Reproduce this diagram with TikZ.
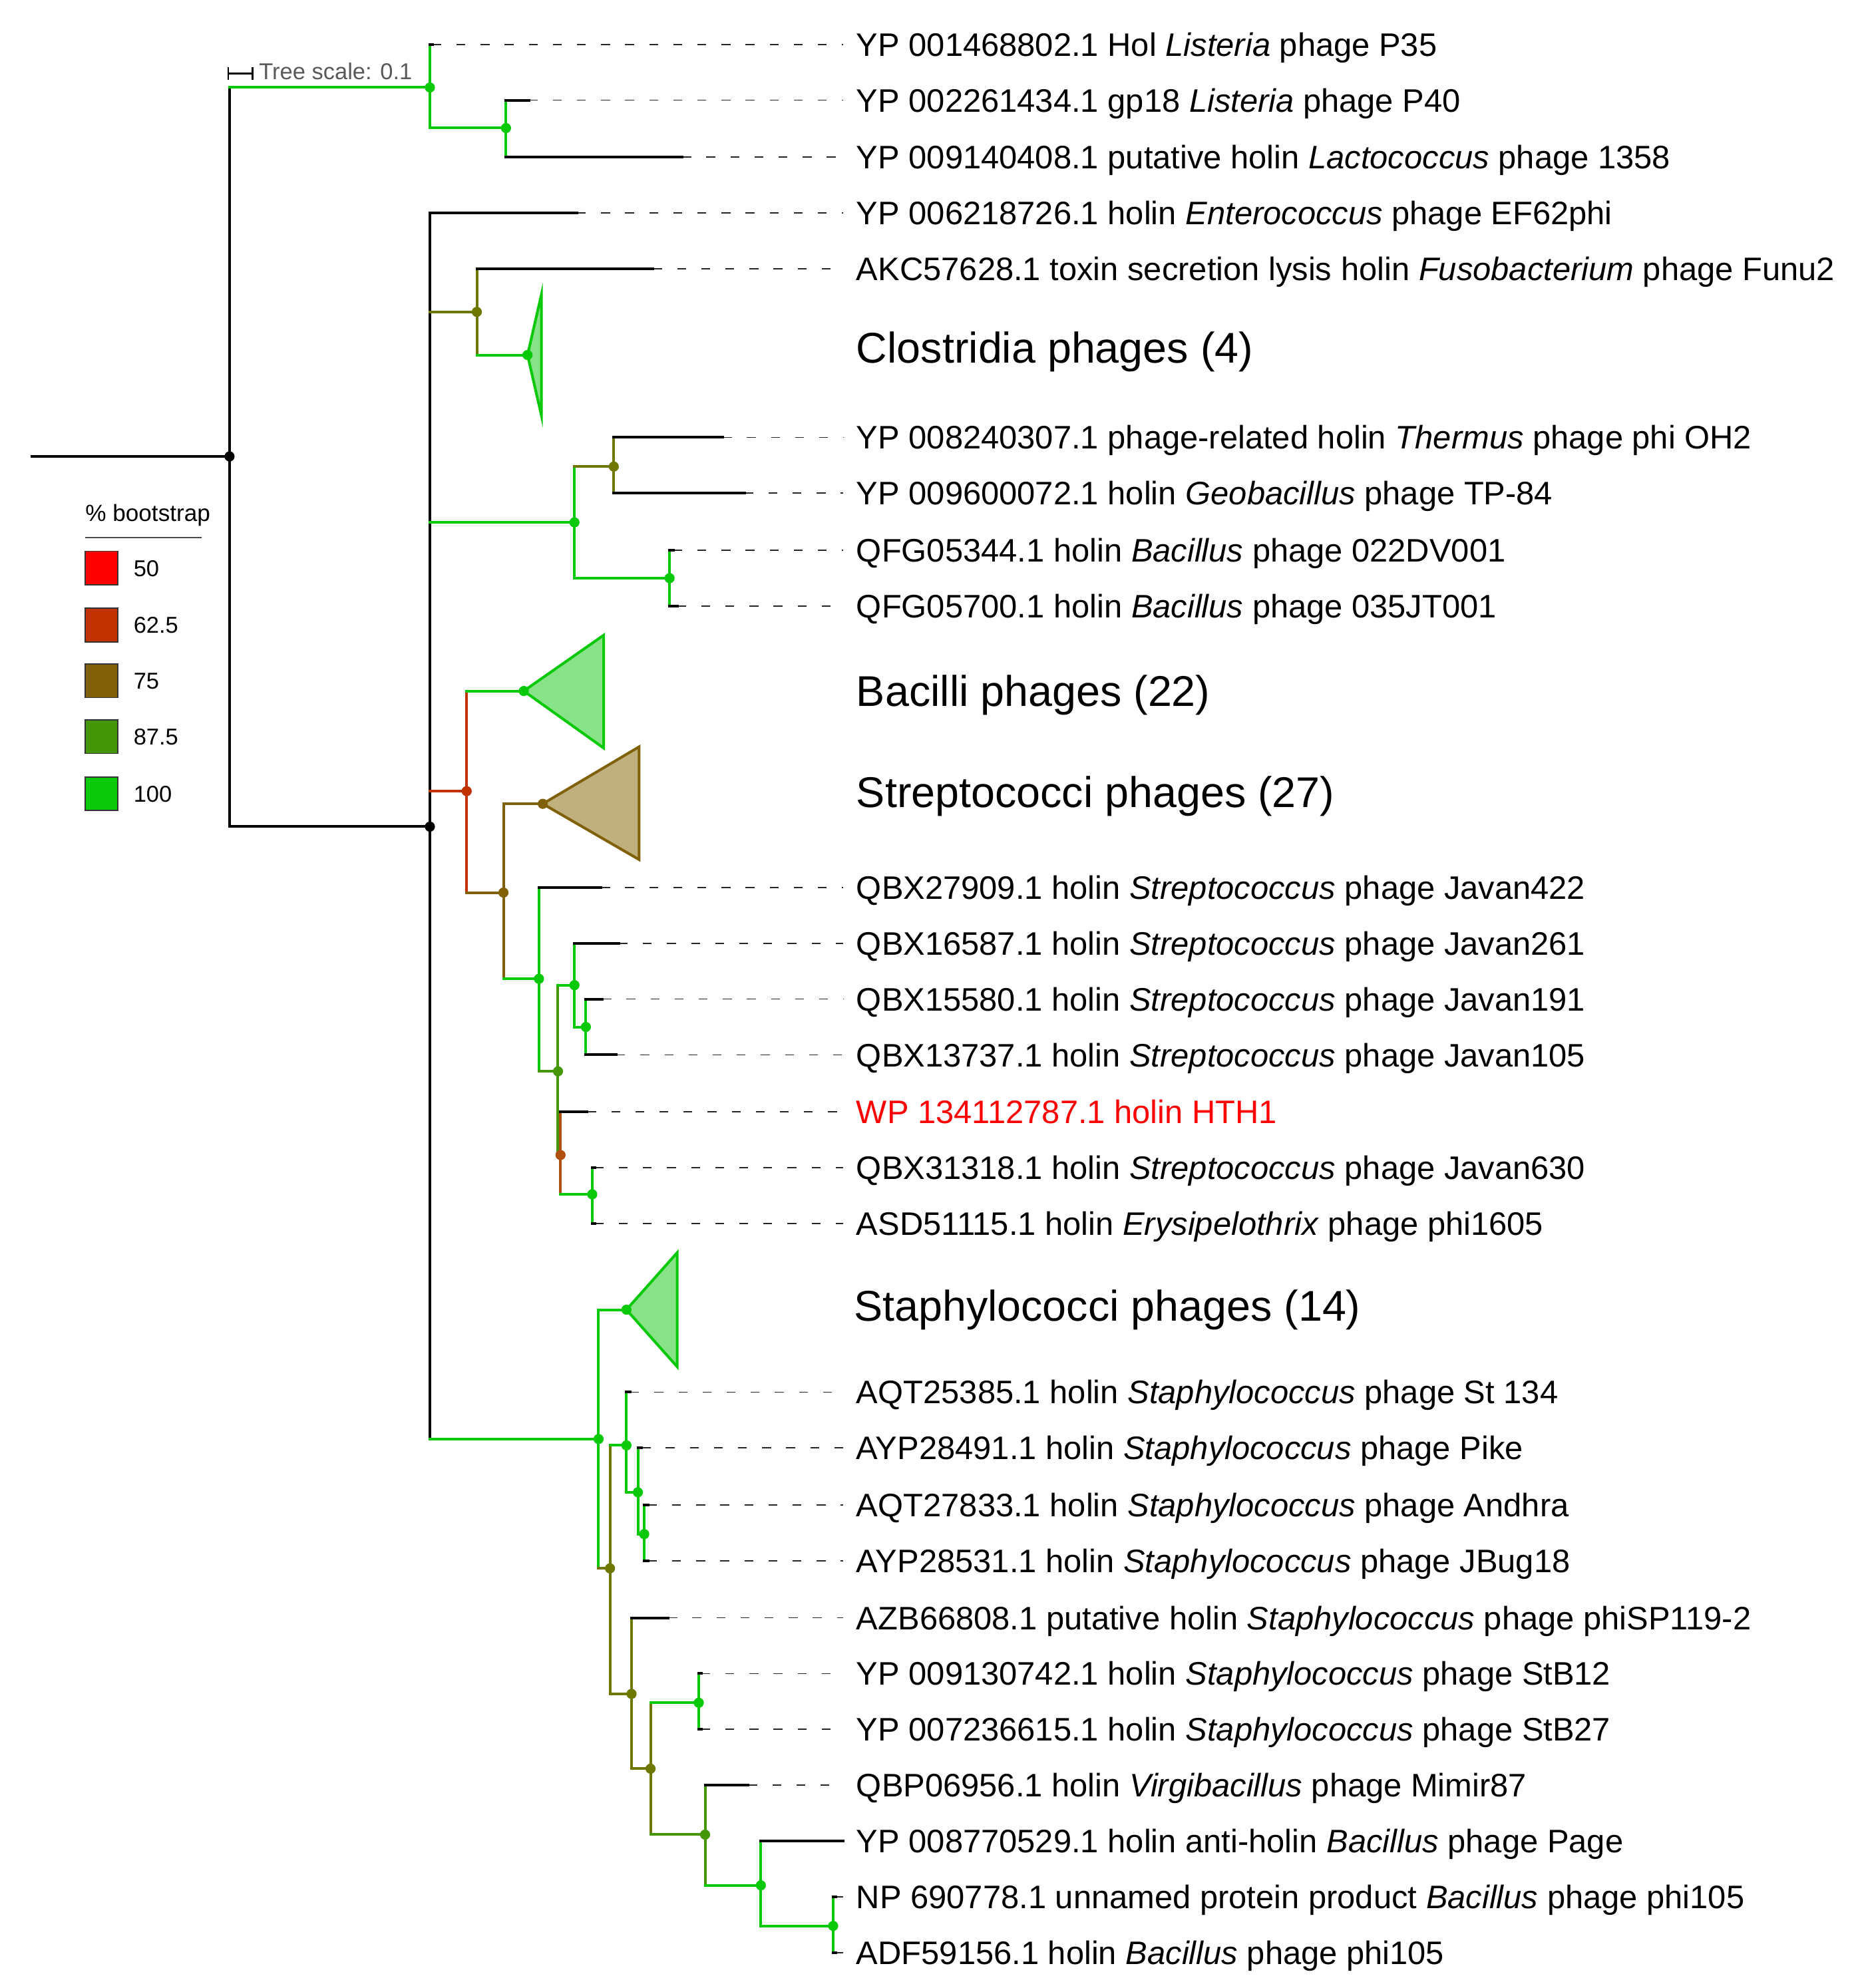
\documentclass[tikz,border=0pt]{standalone}
\usepackage{fontspec}
\setmainfont{Liberation Sans}
\definecolor{c100}{RGB}{10,200,10}
\definecolor{c875}{RGB}{70,150,10}
\definecolor{c75}{RGB}{128,96,8}
\definecolor{c625}{RGB}{192,50,0}
\definecolor{c50}{RGB}{255,0,0}
\definecolor{colv}{RGB}{110,120,0}
\definecolor{corg}{RGB}{176,80,16}
\definecolor{lgreen}{RGB}{136,226,136}
\definecolor{ltan}{RGB}{192,176,126}
\tikzset{
  br/.style={line width=1.2pt, line cap=rect},
  lead/.style={line width=0.5pt, black!85, dash pattern=on 0.14cm off 0.24cm},
  lab/.style={anchor=base west, inner sep=0pt, font=\fontsize{14.6}{16}\selectfont},
  grp/.style={anchor=base west, inner sep=0pt, font=\fontsize{19.3}{22}\selectfont},
  leg/.style={anchor=base west, inner sep=0pt, font=\fontsize{10.3}{12}\selectfont},
  legbox/.style={draw=black!80, line width=0.5pt, minimum width=0.52cm, minimum height=0.53cm, inner sep=0pt},
  clade/.style={line width=1.2pt, line join=miter},
}
\begin{document}
\begin{tikzpicture}[x=0.02cm,y=-0.02cm]
\useasboundingbox (0,0) rectangle (1465,1568);
\coordinate (root) at (25,360);
\coordinate (r) at (181,360);
\coordinate (n1) at (339,69);
\coordinate (n2) at (399,101);
\coordinate (n3) at (339,652);
\coordinate (n4) at (376,246);
\coordinate (n5) at (416,280);
\coordinate (n6) at (453,412);
\coordinate (n7) at (484,368);
\coordinate (n8) at (528,456);
\coordinate (n9) at (368,624);
\coordinate (n10) at (413,545);
\coordinate (n11) at (397,704);
\coordinate (n12) at (428,634);
\coordinate (n13) at (425,772);
\coordinate (n14) at (440,845);
\coordinate (n15) at (453,777);
\coordinate (n16) at (462,810);
\coordinate (n17) at (442,911);
\coordinate (n18) at (467,942);
\coordinate (n19) at (472,1135);
\coordinate (n20) at (494,1033);
\coordinate (n21) at (481,1237);
\coordinate (n22) at (494,1140);
\coordinate (n23) at (503,1177);
\coordinate (n24) at (508,1210);
\coordinate (n25) at (498,1336);
\coordinate (n26) at (513,1395);
\coordinate (n27) at (551,1343);
\coordinate (n28) at (556,1447);
\coordinate (n29) at (600,1487);
\coordinate (n30) at (657,1519);
\coordinate (al) at (665,0);

\foreach \i/\x/\y/\txt in {
  1/341/35/{YP 001468802.1 Hol \textit{Listeria} phage P35},
  2/417/79/{YP 002261434.1 gp18 \textit{Listeria} phage P40},
  3/538/124/{YP 009140408.1 putative holin \textit{Lactococcus} phage 1358},
  4/455/168/{YP 006218726.1 holin \textit{Enterococcus} phage EF62phi},
  5/515/212/{AKC57628.1 toxin secretion lysis holin \textit{Fusobacterium} phage Funu2},
  7/570/345/{YP 008240307.1 phage-related holin \textit{Thermus} phage phi OH2},
  8/587/389/{YP 009600072.1 holin \textit{Geobacillus} phage TP-84},
  9/531/434/{QFG05344.1 holin \textit{Bacillus} phage 022DV001},
  10/534/478/{QFG05700.1 holin \textit{Bacillus} phage 035JT001},
  13/474/700/{QBX27909.1 holin \textit{Streptococcus} phage Javan422},
  14/488/744/{QBX16587.1 holin \textit{Streptococcus} phage Javan261},
  15/475/788/{QBX15580.1 holin \textit{Streptococcus} phage Javan191},
  16/486/832/{QBX13737.1 holin \textit{Streptococcus} phage Javan105},
  17/463/877/{\color{c50}WP 134112787.1 holin HTH1},
  18/469/921/{QBX31318.1 holin \textit{Streptococcus} phage Javan630},
  19/469/965/{ASD51115.1 holin \textit{Erysipelothrix} phage phi1605},
  21/497/1098/{AQT25385.1 holin \textit{Staphylococcus} phage St 134},
  22/506/1142/{AYP28491.1 holin \textit{Staphylococcus} phage Pike},
  23/511/1187/{AQT27833.1 holin \textit{Staphylococcus} phage Andhra},
  24/511/1231/{AYP28531.1 holin \textit{Staphylococcus} phage JBug18},
  25/527/1276/{AZB66808.1 putative holin \textit{Staphylococcus} phage phiSP119-2},
  26/553/1320/{YP 009130742.1 holin \textit{Staphylococcus} phage StB12},
  27/553/1364/{YP 007236615.1 holin \textit{Staphylococcus} phage StB27},
  28/590/1408/{QBP06956.1 holin \textit{Virgibacillus} phage Mimir87},
  29/665/1452/{YP 008770529.1 holin anti-holin \textit{Bacillus} phage Page},
  30/659/1496/{NP 690778.1 unnamed protein product \textit{Bacillus} phage phi105},
  31/659/1540/{ADF59156.1 holin \textit{Bacillus} phage phi105}} {
  \coordinate (t\i) at (\x,\y);
  \draw[lead] (t\i) -- (t\i -| al);
  \node[lab] (lab\i) at (675,{\y+9.2}) {\txt};
}

\node[grp] (clo) at (675,286) {Clostridia phages (4)};
\node[grp] (bac) at (675,557) {Bacilli phages (22)};
\node[grp] (str) at (675,637) {Streptococci phages (27)};
\node[grp] (sta) at (673,1042) {Staphylococci phages (14)};

% root
\draw[br] (root) -- (r);
\draw[br] (r |- n1) -- (r |- n3);
\draw[br,c100] (r |- n1) -- (n1);
\draw[br] (r |- n3) -- (n3);
\draw[br,c100] (n1 |- t1) -- (n1 |- n2);
\draw[br] (n1 |- t1) -- (t1);
\draw[br,c100] (n1 |- n2) -- (n2);
\draw[br,c100] (n2 |- t2) -- (n2 |- t3);
\draw[br] (n2 |- t2) -- (t2);
\draw[br] (n2 |- t3) -- (t3);
\draw[br] (n3 |- t4) -- (n3 |- n19);
\draw[br] (n3 |- t4) -- (t4);
\draw[br,colv] (n3 |- n4) -- (n4);
\draw[br,c100] (n3 |- n6) -- (n6);
\draw[br,c625] (n3 |- n9) -- (n9);
\draw[br,c100] (n3 |- n19) -- (n19);
% clostridia
\draw[br,colv] (n4 |- t5) -- (n4 |- n5);
\draw[br] (n4 |- t5) -- (t5);
\draw[br,c100] (n4 |- n5) -- (n5);
\filldraw[clade,draw=c100,fill=lgreen] (n5) -- (427,232) -- (427,328) -- cycle;
% thermus / bacillus
\draw[br,c100] (n6 |- n7) -- (n6 |- n8);
\draw[br,colv] (n6 |- n7) -- (n7);
\draw[br,c100] (n6 |- n8) -- (n8);
\draw[br,colv] (n7 |- t7) -- (n7 |- t8);
\draw[br] (n7 |- t7) -- (t7);
\draw[br] (n7 |- t8) -- (t8);
\draw[br,c100] (n8 |- t9) -- (n8 |- t10);
\draw[br] (n8 |- t9) -- (t9);
\draw[br] (n8 |- t10) -- (t10);
% bacilli / streptococci
\draw[br,c625] (n9 |- n10) -- (n9 |- n11);
\draw[br,c100] (n9 |- n10) -- (n10);
\draw[br,c75] (n9 |- n11) -- (n11);
\filldraw[clade,draw=c100,fill=lgreen] (n10) -- (476,501) -- (476,590) -- cycle;
\draw[br,c75] (n11 |- n12) -- (n11 |- n13);
\draw[br,c75] (n11 |- n12) -- (n12);
\draw[br,c100] (n11 |- n13) -- (n13);
\filldraw[clade,draw=c75,fill=ltan] (n12) -- (504,589) -- (504,678) -- cycle;
\draw[br,c100] (n13 |- t13) -- (n13 |- n14);
\draw[br] (n13 |- t13) -- (t13);
\draw[br,c875] (n13 |- n14) -- (n14);
\draw[br,c875] (n14 |- n15) -- (n14 |- n17);
\draw[br,c100] (n14 |- n15) -- (n15);
\draw[br,corg] (n14 |- n17) -- (n17);
\draw[br,c100] (n15 |- t14) -- (n15 |- n16);
\draw[br] (n15 |- t14) -- (t14);
\draw[br,c100] (n15 |- n16) -- (n16);
\draw[br,c100] (n16 |- t15) -- (n16 |- t16);
\draw[br] (n16 |- t15) -- (t15);
\draw[br] (n16 |- t16) -- (t16);
\draw[br,corg] (n17 |- t17) -- (n17 |- n18);
\draw[br] (n17 |- t17) -- (t17);
\draw[br,c100] (n17 |- n18) -- (n18);
\draw[br,c100] (n18 |- t18) -- (n18 |- t19);
\draw[br] (n18 |- t18) -- (t18);
\draw[br] (n18 |- t19) -- (t19);
% staphylococci
\draw[br,c100] (n19 |- n20) -- (n19 |- n21);
\draw[br,c100] (n19 |- n20) -- (n20);
\draw[br,colv] (n19 |- n21) -- (n21);
\filldraw[clade,draw=c100,fill=lgreen] (n20) -- (534,988) -- (534,1078) -- cycle;
\draw[br,colv] (n21 |- n22) -- (n21 |- n25);
\draw[br,c100] (n21 |- n22) -- (n22);
\draw[br,colv] (n21 |- n25) -- (n25);
\draw[br,c100] (n22 |- t21) -- (n22 |- n23);
\draw[br] (n22 |- t21) -- (t21);
\draw[br,c100] (n22 |- n23) -- (n23);
\draw[br,c100] (n23 |- t22) -- (n23 |- n24);
\draw[br] (n23 |- t22) -- (t22);
\draw[br,c100] (n23 |- n24) -- (n24);
\draw[br,c100] (n24 |- t23) -- (n24 |- t24);
\draw[br] (n24 |- t23) -- (t23);
\draw[br] (n24 |- t24) -- (t24);
\draw[br,colv] (n25 |- t25) -- (n25 |- n26);
\draw[br] (n25 |- t25) -- (t25);
\draw[br,colv] (n25 |- n26) -- (n26);
\draw[br,colv] (n26 |- n27) -- (n26 |- n28);
\draw[br,c100] (n26 |- n27) -- (n27);
\draw[br,c875] (n26 |- n28) -- (n28);
\draw[br,c100] (n27 |- t26) -- (n27 |- t27);
\draw[br] (n27 |- t26) -- (t26);
\draw[br] (n27 |- t27) -- (t27);
\draw[br,c875] (n28 |- t28) -- (n28 |- n29);
\draw[br] (n28 |- t28) -- (t28);
\draw[br,c100] (n28 |- n29) -- (n29);
\draw[br,c100] (n29 |- t29) -- (n29 |- n30);
\draw[br] (n29 |- t29) -- (t29);
\draw[br,c100] (n29 |- n30) -- (n30);
\draw[br,c100] (n30 |- t30) -- (n30 |- t31);
\draw[br] (n30 |- t30) -- (t30);
\draw[br] (n30 |- t31) -- (t31);

\foreach \n/\c in {r/black, n1/c100, n2/c100, n3/black, n4/colv, n5/c100, n6/c100,
  n7/colv, n8/c100, n9/c625, n10/c100, n11/c75, n12/c75, n13/c100, n14/c875,
  n15/c100, n16/c100, n17/corg, n18/c100, n19/c100, n20/c100, n21/colv, n22/c100,
  n23/c100, n24/c100, n25/colv, n26/colv, n27/c100, n28/c875, n29/c100, n30/c100}
  \fill[\c] (\n) circle (0.08cm);

% legend
\node[leg, font=\fontsize{10.5}{12}\selectfont] (legtitle) at (67,411) {\% bootstrap};
\draw[line width=0.5pt, black!70] (legtitle.south west |- 0,424) -- (159,424);
\foreach \k/\c/\v/\y in {1/c50/50/448, 2/c625/62.5/493, 3/c75/75/537, 4/c875/87.5/581, 5/c100/100/626} {
  \node[legbox, fill=\c] (sq\k) at (80,\y) {};
  \node[leg] (lv\k) at (105,{\y+6.5}) {\v};
}

% tree scale
\coordinate (sa) at (180,58);
\coordinate (sb) at (199,58);
\draw[line width=0.8pt] (sa) -- (sb);
\draw[line width=0.8pt] ([yshift=0.1cm]sa) -- ([yshift=-0.1cm]sa);
\draw[line width=0.8pt] ([yshift=0.1cm]sb) -- ([yshift=-0.1cm]sb);
\node[leg, text=black!65] (tscale) at (204,62.6) {Tree scale: 0.1};
\end{tikzpicture}
\end{document}
